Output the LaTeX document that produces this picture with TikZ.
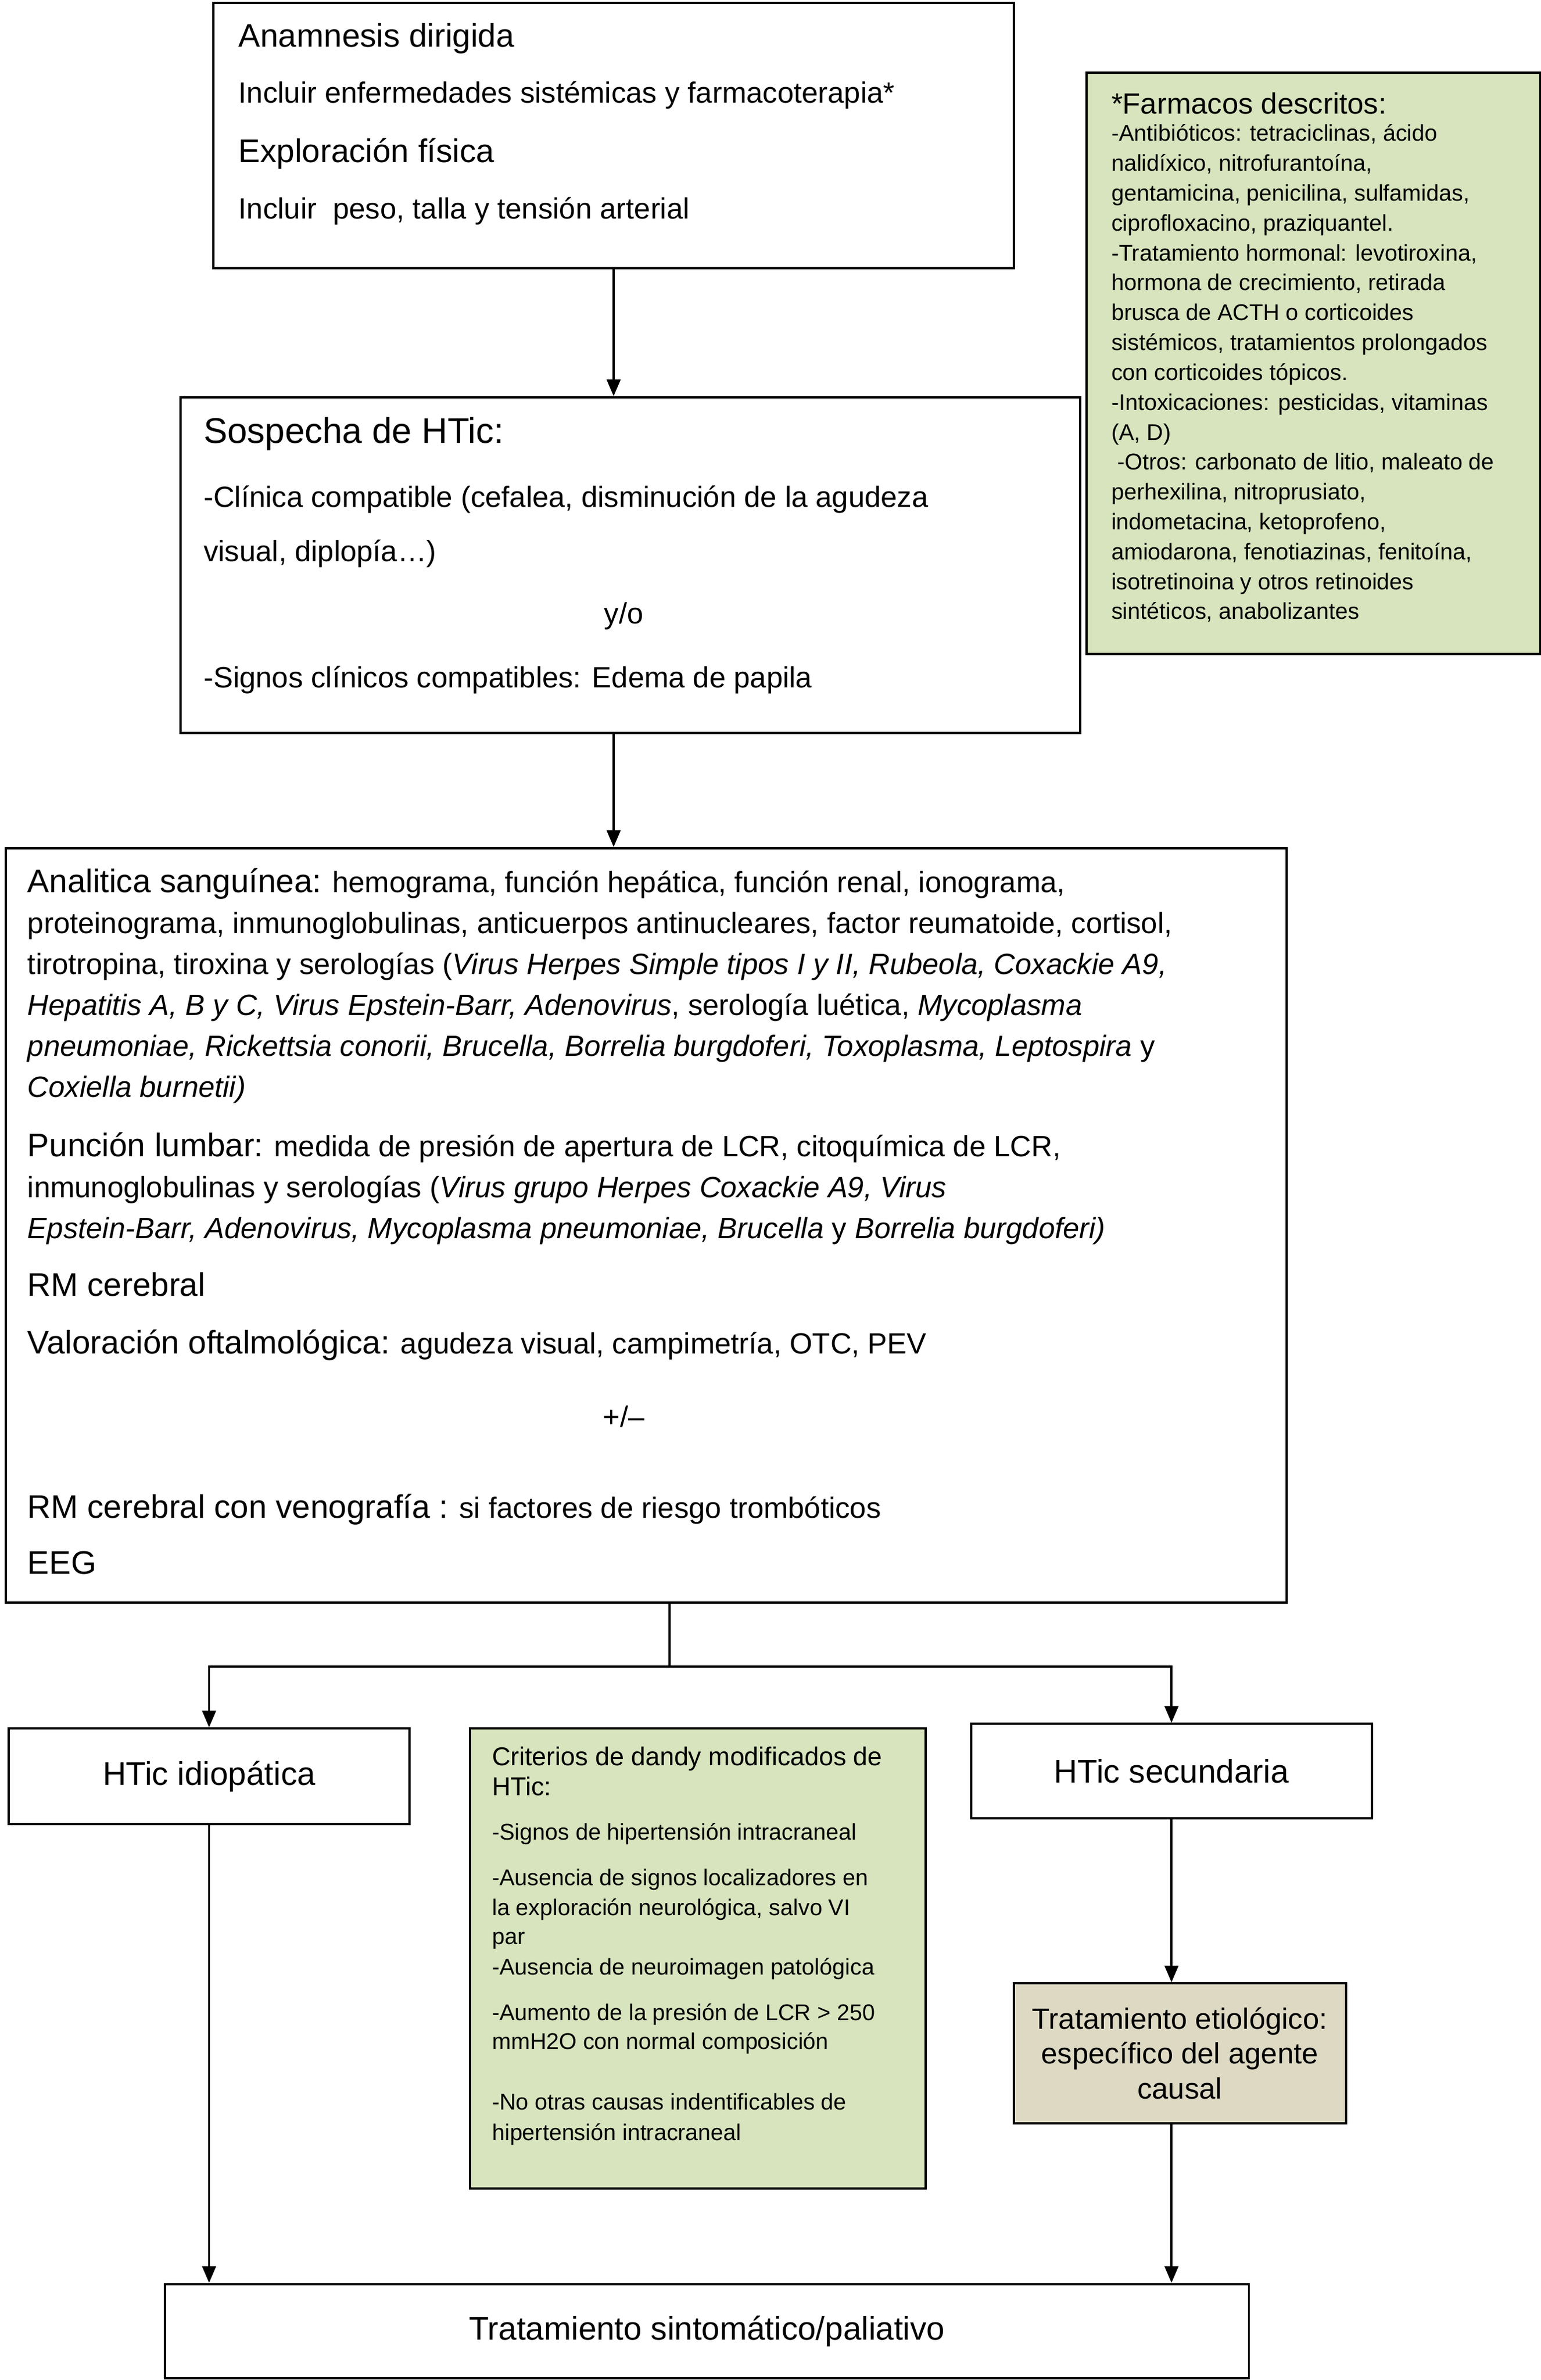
\documentclass[tikz,border=0pt]{standalone}
\usepackage{fontspec}
\setmainfont{Liberation Sans}
\usetikzlibrary{arrows.meta}
\usepackage{xcolor}

\newcommand{\headfont}{\fontsize{21.5}{26}\selectfont}
\newcommand{\bodyfont}{\fontsize{19.3}{24}\selectfont}
\newcommand{\notefont}{\fontsize{15}{18}\selectfont}
\definecolor{notegreen}{RGB}{215,228,189}
\definecolor{etiobeige}{RGB}{221,217,195}

\begin{document}
\begin{tikzpicture}[x=1pt,y=-1pt,
					box/.style={draw, line width=1.5pt, anchor=north west, inner sep=0pt},
					note/.style={box, fill=notegreen},
					line/.style={anchor=base west, inner sep=0pt, font=\bodyfont},
					arr/.style={line width=1.4pt, -{Triangle[length=11pt,width=9pt]}}]
    \useasboundingbox (0,0) rectangle (1015,1568);
    % Place boxes
    \node [box, minimum width=527pt, minimum height=175pt] (anam) at (140,1) {};
    \node [note, minimum width=299pt, minimum height=383pt] (farm) at (715,47) {};
    \node [box, minimum width=593pt, minimum height=221pt] (sosp) at (118,261) {};
    \node [box, minimum width=844pt, minimum height=497pt] (anal) at (3,558) {};
    \node [box, minimum width=264pt, minimum height=63pt, font=\headfont] (idio) at (5,1138) {HTic idiopática};
    \node [note, minimum width=300pt, minimum height=303pt] (crit) at (309,1138) {};
    \node [box, minimum width=264pt, minimum height=62pt, font=\headfont] (secu) at (639,1135) {HTic secundaria};
    \node [box, fill=etiobeige, minimum width=219pt, minimum height=92pt, align=center,
           font=\fontsize{19.3}{23}\selectfont] (etio) at (667,1306)
           {Tratamiento etiológico:\\específico del agente\\causal};
    \node [box, minimum width=714pt, minimum height=62pt, font=\headfont] (sint) at (108,1504) {Tratamiento sintomático/paliativo};

    % Anamnesis
    \node [line, font=\headfont] (anam1) at (157,31) {Anamnesis dirigida};
    \node [line] (anam2) at (157,68) {Incluir enfermedades sistémicas y farmacoterapia*};
    \node [line, font=\headfont] (anam3) at (157,107) {Exploración física};
    \node [line] (anam4) at (157,144) {Incluir\ \ peso, talla y tensión arterial};

    % Farmacos
    \node [line] (farm0) at (732,75) {*Farmacos descritos:};
    \foreach \txt [count=\i] in {{-Antibióticos: tetraciclinas, ácido},
    		{nalidíxico, nitrofurantoína,},
    		{gentamicina, penicilina, sulfamidas,},
    		{ciprofloxacino, praziquantel.},
    		{-Tratamiento hormonal: levotiroxina,},
    		{hormona de crecimiento, retirada},
    		{brusca de ACTH o corticoides},
    		{sistémicos, tratamientos prolongados},
    		{con corticoides tópicos.},
    		{-Intoxicaciones: pesticidas, vitaminas},
    		{(A, D)},
    		{\hspace{4pt}-Otros: carbonato de litio, maleato de},
    		{perhexilina, nitroprusiato,},
    		{indometacina, ketoprofeno,},
    		{amiodarona, fenotiazinas, fenitoína,},
    		{isotretinoina y otros retinoides},
    		{sintéticos, anabolizantes}}
    	\node [line, font=\notefont] (farm\i) at (732,{93+19.69*(\i-1)}) {\txt};

    % Sospecha
    \node [line, font=\fontsize{23.5}{27}\selectfont] (sosp1) at (134,292) {Sospecha de HTic:};
    \node [line] (sosp2) at (134,334) {-Clínica compatible (cefalea, disminución de la agudeza};
    \node [line] (sosp3) at (134,370) {visual, diplopía…)};
    \node [anchor=base, inner sep=0pt, font=\bodyfont] (sosp4) at (411,411) {y/o};
    \node [line] (sosp5) at (134,453) {-Signos clínicos compatibles: Edema de papila};

    % Analitica
    \node [line] (anal1) at (18,588) {{\headfont Analitica sanguínea:} hemograma, función hepática, función renal, ionograma,};
    \node [line] (anal2) at (18,615) {proteinograma, inmunoglobulinas, anticuerpos antinucleares, factor reumatoide, cortisol,};
    \node [line] (anal3) at (18,642) {tirotropina, tiroxina y serologías (\textit{Virus Herpes Simple tipos I y II, Rubeola, Coxackie A9,}};
    \node [line] (anal4) at (18,669) {\textit{Hepatitis A, B y C, Virus Epstein-Barr, Adenovirus}, serología luética, \textit{Mycoplasma}};
    \node [line] (anal5) at (18,696) {\textit{pneumoniae, Rickettsia conorii, Brucella, Borrelia burgdoferi, Toxoplasma, Leptospira} y};
    \node [line] (anal6) at (18,723) {\textit{Coxiella burnetii)}};
    \node [line] (anal7) at (18,762) {{\headfont Punción lumbar:} medida de presión de apertura de LCR, citoquímica de LCR,};
    \node [line] (anal8) at (18,789) {inmunoglobulinas y serologías (\textit{Virus grupo Herpes Coxackie A9, Virus}};
    \node [line] (anal9) at (18,816) {\textit{Epstein-Barr, Adenovirus, Mycoplasma pneumoniae, Brucella} y \textit{Borrelia burgdoferi)}};
    \node [line, font=\headfont] (anal10) at (18,854) {RM cerebral};
    \node [line] (anal11) at (18,892) {{\headfont Valoración oftalmológica:} agudeza visual, campimetría, OTC, PEV};
    \node [anchor=base, inner sep=0pt, font=\bodyfont] (anal12) at (411,940) {+/–};
    \node [line] (anal13) at (18,1000) {{\headfont RM cerebral con venografía :} si factores de riesgo trombóticos};
    \node [line, font=\headfont] (anal14) at (18,1037) {EEG};

    % Criterios
    \node [line, font=\fontsize{17}{20}\selectfont] (crit1) at (324,1163) {Criterios de dandy modificados de};
    \node [line, font=\fontsize{17}{20}\selectfont] (crit2) at (324,1183) {HTic:};
    \foreach \yy/\txt [count=\i from 3] in {1212/{-Signos de hipertensión intracraneal},
    		1242/{-Ausencia de signos localizadores en},
    		1262/{la exploración neurológica, salvo VI},
    		1281/{par},
    		1301/{-Ausencia de neuroimagen patológica},
    		1331/{-Aumento de la presión de LCR > 250},
    		1350/{mmH2O con normal composición},
    		1390/{-No otras causas indentificables de},
    		1410/{hipertensión intracraneal}}
    	\node [line, font=\notefont] (crit\i) at (324,\yy) {\txt};

    % Draw edges
    \coordinate (split) at (441,1098);
    \draw[arr] (anam.south) -- (anam.south |- sosp.north);
    \draw[arr] (anam.south |- sosp.south) -- (anam.south |- anal.north);
    \draw[line width=1.4pt] (anal.south -| split) -- (split);
    \draw[arr] (split) -| (idio.north);
    \draw[arr] (split) -| (secu.north);
    \draw[arr] (secu.south) -- (secu.south |- etio.north);
    \draw[arr] (secu.south |- etio.south) -- (secu.south |- sint.north);
    \draw[arr] (idio.south) -- (idio.south |- sint.north);
\end{tikzpicture}
\end{document}
